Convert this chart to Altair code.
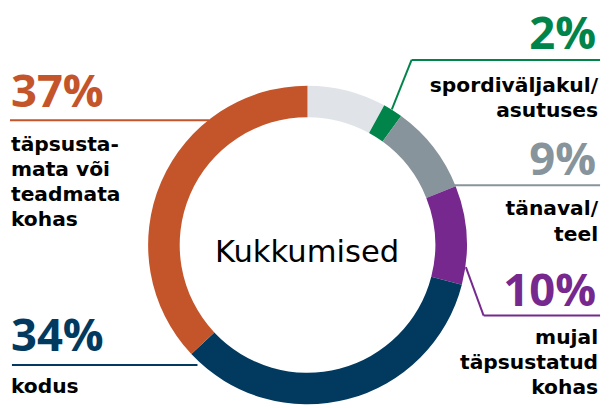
import altair as alt
import pandas as pd

# ---- data ----
categories = ["muu", "spordiväljakul/asutuses", "tänaval/teel",
              "mujal täpsustatud kohas", "kodus", "täpsustamata või teadmata kohas"]
values = [8, 2, 9, 10, 34, 37]
colors = ["#E0E4E8", "#00844A", "#87949B", "#76288E", "#023A5F", "#C4552A"]

center_title = "Kukkumised"
label_texts = {
    "täpsustamata või teadmata kohas": "täpsusta-\nmata või\nteadmata\nkohas",
    "kodus": "kodus",
    "spordiväljakul/asutuses": "spordiväljakul/\nasutuses",
    "tänaval/teel": "tänaval/\nteel",
    "mujal täpsustatud kohas": "mujal\ntäpsustatud\nkohas",
}

PCT_FONT = "Open Sans"
LBL_FONT = "DejaVu Sans"
OFF = 8  # page margin

df = pd.DataFrame({"cat": categories, "value": values, "idx": list(range(len(values)))})

arc = alt.Chart(df).mark_arc(
    outerRadius=161.5, innerRadius=129.5, x=311.5 - OFF, y=245.5 - OFF
).encode(
    theta=alt.Theta("value:Q", stack=True),
    color=alt.Color("cat:N", scale=alt.Scale(domain=categories, range=colors), legend=None),
    order=alt.Order("idx:Q"),
)

def text_layer(txt, x, y, size, color, align="left", weight=700, line_height=25.5, font=LBL_FONT):
    return alt.Chart(pd.DataFrame({"t": [txt]})).mark_text(
        x=x - OFF, y=y - OFF, align=align, baseline="alphabetic",
        font=font, fontSize=size, fontWeight=weight, color=color,
        lineBreak="\n", lineHeight=line_height,
    ).encode(text="t:N")

def rule_layer(x1, y1, x2, y2, color):
    return alt.Chart(pd.DataFrame({"d": [0]})).mark_rule(
        color=color, strokeWidth=2
    ).encode(
        x=alt.value(x1 - OFF), y=alt.value(y1 - OFF),
        x2=alt.value(x2 - OFF), y2=alt.value(y2 - OFF),
    )

val = dict(zip(categories, values))
col = dict(zip(categories, colors))

c_or = "täpsustamata või teadmata kohas"
c_nv = "kodus"
c_gr = "spordiväljakul/asutuses"
c_gy = "tänaval/teel"
c_pu = "mujal täpsustatud kohas"

PCT = 46
LBL = 20.5

def pct(txt, x, y, color, align="left"):
    return text_layer(txt, x, y, PCT, color, align=align, weight=700, font=PCT_FONT)

layers = [
    arc,
    text_layer(center_title, 311, 263, 31, "#000000", align="center", weight=400),
    # orange
    pct(f"{val[c_or]}%", 11, 106, col[c_or]),
    rule_layer(10, 119, 212, 119, col[c_or]),
    text_layer(label_texts[c_or], 11, 150, LBL, "#000000"),
    # navy
    pct(f"{val[c_nv]}%", 11, 353, col[c_nv]),
    rule_layer(12, 367, 200, 367, col[c_nv]),
    text_layer(label_texts[c_nv], 11, 395, LBL, "#000000"),
    # green
    pct(f"{val[c_gr]}%", 604, 47, col[c_gr], align="right"),
    rule_layer(417, 58, 608, 58, col[c_gr]),
    rule_layer(417, 58, 397, 108, col[c_gr]),
    text_layer(label_texts[c_gr], 606, 90, LBL, "#000000", align="right"),
    # gray
    pct(f"{val[c_gy]}%", 604, 175, col[c_gy], align="right"),
    rule_layer(460, 185, 608, 185, col[c_gy]),
    text_layer(label_texts[c_gy], 606, 215, LBL, "#000000", align="right", line_height=26.5),
    # purple
    pct(f"{val[c_pu]}%", 604, 307, col[c_pu], align="right"),
    rule_layer(490, 317, 608, 317, col[c_pu]),
    rule_layer(490, 317, 472, 268, col[c_pu]),
    text_layer(label_texts[c_pu], 606, 346, LBL, "#000000", align="right"),
]

chart = alt.layer(*layers).properties(
    width=605, height=400, padding=0, autosize=alt.AutoSizeParams(type="none"),
    background="white",
).configure_view(stroke=None)

chart.save("out.html", embed_options={"renderer": "svg", "actions": False})
